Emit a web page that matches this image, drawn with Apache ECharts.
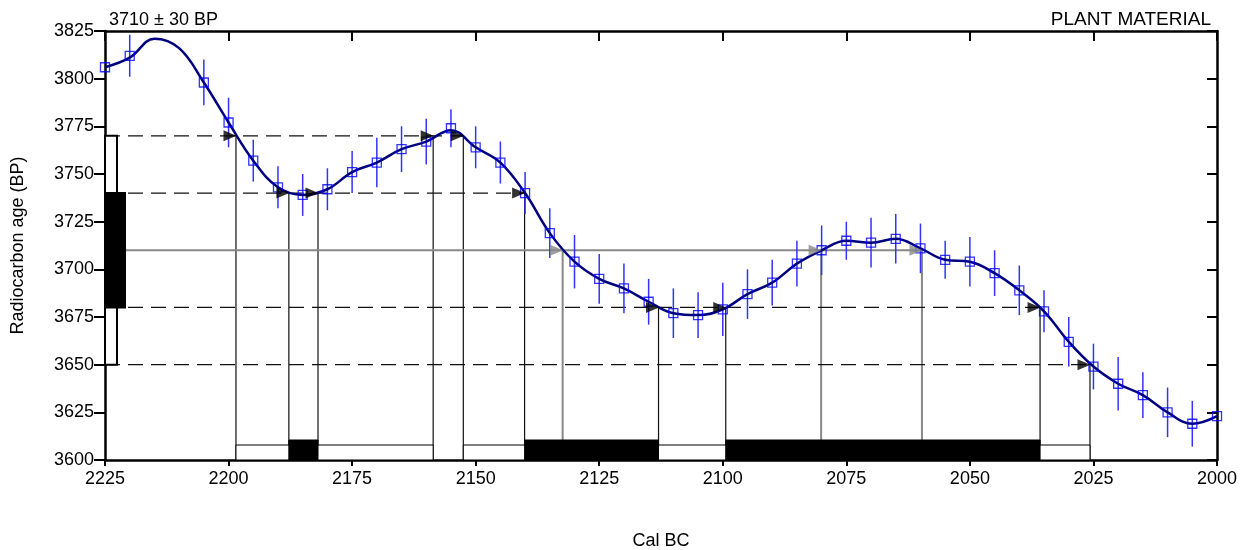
<!DOCTYPE html>
<html>
<head>
<meta charset="utf-8">
<title>Radiocarbon calibration</title>
<script src="https://cdn.jsdelivr.net/npm/echarts/dist/echarts.min.js"></script>
<style>
  html, body { margin: 0; padding: 0; background: #fff; }
  #chart { width: 1247px; height: 550px; }
</style>
</head>
<body>
<div id="chart"></div>
<script>
// measurement
var measAge = 3710;
var measErr = 30;

// calibration data points (cal BC, BP, 1 sigma)
var calYears = [2225, 2220, 2205, 2200, 2195, 2190, 2185, 2180, 2175, 2170, 2165, 2160, 2155, 2150, 2145, 2140, 2135, 2130, 2125, 2120, 2115, 2110, 2105, 2100, 2095, 2090, 2085, 2080, 2075, 2070, 2065, 2060, 2055, 2050, 2045, 2040, 2035, 2030, 2025, 2020, 2015, 2010, 2005, 2000];
var calAges = [3806, 3812, 3798, 3777, 3757, 3743, 3739, 3742, 3751, 3756, 3763, 3767, 3774, 3764, 3756, 3740, 3719, 3704, 3695, 3690, 3683, 3677, 3676, 3679, 3687, 3693, 3703, 3710, 3715, 3714, 3716, 3711, 3705, 3704, 3698, 3689, 3678, 3662, 3649, 3640, 3634, 3625, 3619, 3623];
var calErrs = [null, 11, 12, 13, 11, 11, 11, 11, 11, 13, 12, 12, 10, 11, 11, 11, 13, 14, 13, 13, 12, 13, 12, 14, 13, 12, 12, 13, 10, 13, 13, 13, 10, 13, 12, 13, 11, 13, 12, 14, 12, 13, 12, null];

// smoothed calibration curve
var curveYears = [2225, 2220, 2215, 2210, 2205, 2200, 2195, 2190, 2185, 2180, 2175, 2170, 2165, 2160, 2155, 2150, 2145, 2140, 2135, 2130, 2125, 2120, 2115, 2110, 2105, 2100, 2095, 2090, 2085, 2080, 2075, 2070, 2065, 2060, 2055, 2050, 2045, 2040, 2035, 2030, 2025, 2020, 2015, 2010, 2005, 2000];
var curveAges = [3806, 3811, 3821, 3816, 3798, 3777, 3757, 3743, 3739, 3742, 3751, 3756, 3763, 3767, 3773, 3764, 3756, 3740, 3719, 3704, 3695, 3690, 3683, 3677, 3676, 3679, 3687, 3693, 3703, 3710, 3715, 3714, 3716, 3711, 3705, 3704, 3698, 3689, 3678, 3662, 3649, 3640, 3634, 3625, 3619, 3623];

// where the curve crosses the sigma levels
var cutLevels = [3770, 3740, 3680, 3650];
var cutYears = [[2198.5, 2158.6, 2152.5], [2187.8, 2181.9, 2140.1], [2113.0, 2099.4, 2035.8], [2025.7]];
var meanYears = [2132.4, 2080.1, 2059.7];

// calibrated ranges
var sigma2Ranges = [[2198.5, 2158.6], [2152.5, 2025.7]];
var sigma1Ranges = [[2187.8, 2181.9], [2140.1, 2113.0], [2099.4, 2035.8]];

var xMin = 2000, xMax = 2225, yMin = 3600, yMax = 3825;
var font = 'Liberation Sans, Arial, sans-serif';

var myChart = echarts.init(document.getElementById('chart'));

function vLine(color, width) {
	return function (params, api) {
		var p1 = api.coord([api.value(0), api.value(1)]);
		var p2 = api.coord([api.value(0), yMin]);
		return {
			type: 'line',
			shape: { x1: p1[0], y1: p1[1], x2: p2[0], y2: p2[1] },
			style: { stroke: color, lineWidth: width }
		};
	};
}

function rangeBox(h, fill) {
	return function (params, api) {
		var a = api.coord([api.value(0), yMin]);
		var b = api.coord([api.value(1), yMin]);
		return {
			type: 'rect',
			shape: { x: a[0], y: a[1] - h, width: b[0] - a[0], height: h },
			style: { fill: fill, stroke: '#000', lineWidth: 1 }
		};
	};
}

function ageBox(w, fill) {
	return function (params, api) {
		var lo = api.coord([xMax, api.value(1)]);
		var hi = api.coord([xMax, api.value(2)]);
		return {
			type: 'rect',
			shape: { x: lo[0], y: hi[1], width: w, height: lo[1] - hi[1] },
			style: { fill: fill, stroke: '#000', lineWidth: 2 }
		};
	};
}

function errBar(params, api) {
	var x = api.value(0), y = api.value(1), e = api.value(2);
	var t = api.coord([x, y + e]);
	var b = api.coord([x, y - e]);
	return {
		type: 'line',
		shape: { x1: t[0], y1: t[1], x2: b[0], y2: b[1] },
		style: { stroke: '#3333ff', lineWidth: 1.5 }
	};
}

var series = [];

// dashed sigma lines
cutLevels.forEach(function (lvl, i) {
	series.push({
		type: 'line',
		data: [[xMax, lvl], [Math.min.apply(null, cutYears[i]), lvl]],
		symbol: 'none',
		silent: true,
		z: 1,
		lineStyle: { color: '#111', width: 1.2, type: [15, 8] }
	});
});

// measured age line
series.push({
	type: 'line',
	data: [[xMax, measAge], [Math.min.apply(null, meanYears), measAge]],
	symbol: 'none',
	silent: true,
	z: 1,
	lineStyle: { color: '#888', width: 2 }
});

// verticals down to the axis
var cutPts = [];
cutLevels.forEach(function (lvl, i) {
	cutYears[i].forEach(function (y) { cutPts.push([y, lvl]); });
});
series.push({
	type: 'custom',
	renderItem: vLine('#111', 1.2),
	data: cutPts,
	encode: { x: 0, y: 1 },
	z: 1
});
series.push({
	type: 'custom',
	renderItem: vLine('#888', 2),
	data: meanYears.map(function (y) { return [y, measAge]; }),
	encode: { x: 0, y: 1 },
	z: 1
});

// calibrated ranges at the bottom
series.push({
	type: 'custom',
	renderItem: rangeBox(15, '#fff'),
	data: sigma2Ranges,
	encode: { x: [0, 1] },
	clip: false,
	z: 3
});
series.push({
	type: 'custom',
	renderItem: rangeBox(20, '#000'),
	data: sigma1Ranges,
	encode: { x: [0, 1] },
	clip: false,
	z: 3
});

// measured age boxes on the y axis
series.push({
	type: 'custom',
	renderItem: ageBox(12, '#fff'),
	data: [[xMax, measAge - 2 * measErr, measAge + 2 * measErr]],
	encode: { x: 0, y: [1, 2] },
	clip: false,
	z: 3
});
series.push({
	type: 'custom',
	renderItem: ageBox(20, '#000'),
	data: [[xMax, measAge - measErr, measAge + measErr]],
	encode: { x: 0, y: [1, 2] },
	clip: false,
	z: 3
});

// error bars
var errData = [];
calYears.forEach(function (y, i) {
	if (calErrs[i] != null) errData.push([y, calAges[i], calErrs[i]]);
});
series.push({
	type: 'custom',
	renderItem: errBar,
	data: errData,
	encode: { x: 0, y: 1 },
	z: 4
});

// curve
series.push({
	type: 'line',
	data: curveYears.map(function (y, i) { return [y, curveAges[i]]; }),
	smooth: 0.4,
	symbol: 'none',
	z: 5,
	lineStyle: { color: '#000080', width: 2.5 }
});

// data squares
series.push({
	type: 'scatter',
	data: calYears.map(function (y, i) { return [y, calAges[i]]; }),
	symbol: 'rect',
	symbolSize: 9,
	z: 6,
	itemStyle: { color: 'rgba(0,0,0,0)', borderColor: '#0000ff', borderWidth: 1.3 }
});

// arrows
series.push({
	type: 'scatter',
	data: cutPts,
	symbol: 'triangle',
	symbolSize: [11, 13],
	symbolRotate: -90,
	symbolOffset: [-6, 0],
	z: 6,
	itemStyle: { color: '#000' }
});
series.push({
	type: 'scatter',
	data: meanYears.map(function (y) { return [y, measAge]; }),
	symbol: 'triangle',
	symbolSize: [11, 13],
	symbolRotate: -90,
	symbolOffset: [-6, 0],
	z: 6,
	itemStyle: { color: '#888' }
});

var axisLine = { show: true, onZero: false, lineStyle: { color: '#000', width: 2.5 } };
var plain = function (v) { return String(v); };

option = {
	animation: false,
	textStyle: { fontFamily: font },
	title: [{
		text: '3710 ± 30 BP',
		left: 104,
		top: 6,
		textStyle: { fontSize: 18, fontWeight: 'normal', color: '#000', fontFamily: font }
	}, {
		text: 'PLANT MATERIAL',
		right: 31,
		top: 5,
		textStyle: { fontSize: 19, fontWeight: 'normal', color: '#000', fontFamily: font }
	}],
	grid: { left: 105, right: 30, top: 31, bottom: 90, outerBoundsMode: 'none', containLabel: false },
	xAxis: [{
		type: 'value',
		inverse: true,
		min: xMin,
		max: xMax,
		interval: 25,
		position: 'bottom',
		name: 'Cal BC',
		nameLocation: 'middle',
		nameGap: 72,
		nameTextStyle: { fontSize: 18, color: '#000', fontFamily: font },
		axisLine: axisLine,
		axisTick: { show: true, inside: false, length: 6, lineStyle: { color: '#000', width: 2 } },
		axisLabel: { fontSize: 18, color: '#000', margin: 10, fontFamily: font, formatter: plain },
		splitLine: { show: false }
	}, {
		type: 'value',
		inverse: true,
		min: xMin,
		max: xMax,
		interval: 25,
		position: 'top',
		axisLine: axisLine,
		axisTick: { show: true, inside: true, length: 10, lineStyle: { color: '#000', width: 2 } },
		axisLabel: { show: false },
		splitLine: { show: false }
	}],
	yAxis: [{
		type: 'value',
		min: yMin,
		max: yMax,
		interval: 25,
		position: 'left',
		name: 'Radiocarbon age (BP)',
		nameLocation: 'middle',
		nameGap: 78,
		nameTextStyle: { fontSize: 18, color: '#000', fontFamily: font },
		axisLine: axisLine,
		axisTick: { show: true, inside: false, length: 11, lineStyle: { color: '#000', width: 2 } },
		axisLabel: { fontSize: 18, color: '#000', margin: 11, fontFamily: font, formatter: plain },
		splitLine: { show: false }
	}, {
		type: 'value',
		min: yMin,
		max: yMax,
		interval: 25,
		position: 'right',
		axisLine: axisLine,
		axisTick: { show: true, inside: true, length: 10, lineStyle: { color: '#000', width: 2 } },
		axisLabel: { show: false },
		splitLine: { show: false }
	}],
	series: series
};

myChart.setOption(option);
window.addEventListener('resize', function () {
	myChart.resize();
});
</script>
</body>
</html>
